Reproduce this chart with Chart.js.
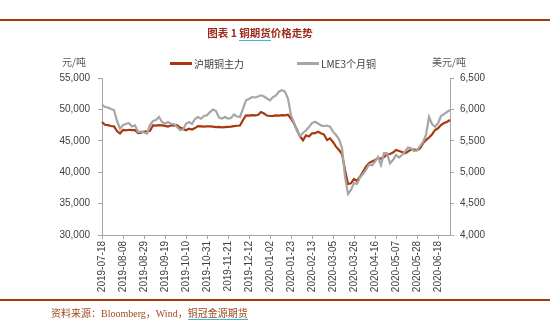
<!DOCTYPE html>
<html>
<head>
<meta charset="utf-8">
<script src="https://cdn.jsdelivr.net/npm/chart.js@4"></script>
<style>
  body { margin: 0; background: #fff; }
  #wrap { position: relative; width: 550px; height: 326px; font-family: "Noto Sans CJK SC", sans-serif; }
  #chart { position: absolute; left: 0; top: 0; }
  .rule { position: absolute; left: 0; width: 550px; height: 2px; background: #a8380f; }
  .title { position: absolute; top: 25px; left: 0; width: 520px; text-align: center; font-size: 10.5px; font-weight: bold; color: #9c2b1b; }
  .link { border-bottom: 1px solid #3cb9cc; }
  .unit { position: absolute; top: 54px; font-size: 10px; color: #595959; }
  .leg { position: absolute; top: 56px; font-size: 10px; color: #404040; display: flex; align-items: center; }
  .swatch { display: inline-block; width: 22px; height: 3px; margin-right: 2px; }
  .source { position: absolute; top: 305px; left: 51px; font-size: 10px; color: #9e4a1c; font-family: "Liberation Serif", "Noto Sans CJK SC", serif; }
</style>
</head>
<body>
<div id="wrap">
  <canvas id="chart" width="550" height="326"></canvas>
  <div class="rule" style="top:19px"></div>
  <div class="rule" style="top:299px"></div>
  <div class="title">图表 1 <span class="link">铜期货</span>价格走势</div>
  <div class="unit" style="left:62px">元/吨</div>
  <div class="unit" style="left:432px">美元/吨</div>
  <div class="leg" style="left:170px"><span class="swatch" style="background:#a8380f"></span>沪期铜主力</div>
  <div class="leg" style="left:297px"><span class="swatch" style="background:#a6a6a6"></span>LME3个月铜</div>
  <div class="source">资料来源：Bloomberg，Wind，<span class="link">铜冠金源期货</span></div>
</div>
<script>
// Sampled every 3 days starting 2019-07-18
const startDate = '2019-07-18';
const stepDays = 3;

const tickDates = ['2019-07-18', '2019-08-08', '2019-08-29', '2019-09-19', '2019-10-10', '2019-10-31',
    '2019-11-21', '2019-12-12', '2020-01-02', '2020-01-23', '2020-02-13', '2020-03-05',
    '2020-03-26', '2020-04-16', '2020-05-07', '2020-05-28', '2020-06-18'];

// SHFE copper main contract (yuan/ton)
const shfeCopper = [
    47990, 47560, 47500, 47350, 47300, 46560, 46160, 46720, 46650, 46760,
    46700, 46720, 46240, 46280, 46480, 46510, 46600, 47460, 47420, 47500,
    47460, 47380, 47270, 47460, 47420, 47480, 47110, 46920, 46670, 46920,
    46800, 47030, 47350, 47300, 47260, 47320, 47300, 47270, 47190, 47220,
    47150, 47190, 47230, 47270, 47350, 47400, 47430, 48310, 49060, 49020,
    49080, 49060, 49100, 49580, 49340, 49020, 48950, 48980, 49060, 49020,
    49080, 49060, 49150, 48520, 47750, 46720, 45680, 45080, 45870, 45680,
    46190, 46220, 46450, 46190, 46000, 45120, 45390, 44810, 44060, 43530,
    42900, 40350, 38120, 38230, 38920, 38600, 39280, 40080, 40870, 41460,
    41700, 41940, 42210, 42180, 42420, 42820, 42900, 43130, 43530, 43370,
    43210, 43010, 43290, 43610, 43580, 43530, 43800, 44600, 45120, 45520,
    46000, 46720, 46990, 47510, 47830, 47990, 48310
];

// LME 3-month copper (USD/ton)
const lmeCopper = [
    6074, 6038, 6030, 6006, 5990, 5815, 5692, 5751, 5772, 5780,
    5727, 5746, 5640, 5651, 5632, 5616, 5751, 5815, 5831, 5879,
    5799, 5772, 5799, 5772, 5765, 5719, 5672, 5680, 5772, 5799,
    5767, 5847, 5879, 5851, 5894, 5906, 5958, 5998, 5974, 5871,
    5855, 5879, 5855, 5863, 5918, 5887, 5879, 6011, 6144, 6165,
    6197, 6190, 6205, 6224, 6205, 6173, 6144, 6197, 6224, 6285,
    6304, 6285, 6170, 5906, 5791, 5656, 5576, 5624, 5667, 5719,
    5783, 5804, 5775, 5746, 5735, 5743, 5724, 5645, 5592, 5528,
    5385, 4928, 4653, 4716, 4828, 4812, 4915, 4971, 5035, 5122,
    5106, 5167, 5242, 5114, 5305, 5300, 5141, 5194, 5274, 5234,
    5274, 5329, 5393, 5380, 5337, 5345, 5417, 5481, 5592, 5879,
    5767, 5724, 5778, 5894, 5926, 5958, 5990
];

// category labels, one per sample
const labels = [];
const d0 = new Date(startDate + 'T00:00:00Z');
for (let i = 0; i < shfeCopper.length; i++) {
    const d = new Date(d0.getTime() + i * stepDays * 86400000);
    labels.push(d.toISOString().slice(0, 10));
}

const axisColor = '#a6a6a6';
const tickFont = { family: 'Liberation Sans', size: 10 };

new Chart(document.getElementById('chart'), {
    type: 'line',
    data: {
        labels: labels,
        datasets: [
            {
                label: '沪期铜主力',
                data: shfeCopper,
                yAxisID: 'y',
                borderColor: '#a8380f',
                borderWidth: 2.2,
                pointRadius: 0,
                tension: 0,
                order: 1
            },
            {
                label: 'LME3个月铜',
                data: lmeCopper,
                yAxisID: 'y1',
                borderColor: '#a6a6a6',
                borderWidth: 2.2,
                pointRadius: 0,
                tension: 0,
                order: 0
            }
        ]
    },
    options: {
        responsive: false,
        animation: false,
        layout: { padding: { top: 78, left: 0, right: 0, bottom: 0 } },
        plugins: {
            legend: { display: false },
            tooltip: { enabled: false }
        },
        scales: {
            x: {
                offset: false,
                border: { color: axisColor },
                grid: { drawOnChartArea: false, drawTicks: true, tickLength: 4, color: axisColor },
                ticks: {
                    autoSkip: false,
                    maxRotation: 90,
                    minRotation: 90,
                    padding: 2,
                    color: '#404040',
                    font: tickFont,
                    callback: function (value) {
                        const lbl = this.getLabelForValue(value);
                        return tickDates.includes(lbl) ? lbl : null;
                    }
                },
                afterFit: scale => { scale.height = 91; }
            },
            y: {
                position: 'left',
                min: 30000,
                max: 55000,
                border: { color: axisColor },
                grid: { drawOnChartArea: false, tickLength: 4, color: axisColor },
                ticks: {
                    stepSize: 5000,
                    padding: 8,
                    color: '#404040',
                    font: tickFont,
                    callback: v => v.toLocaleString('en-US')
                },
                afterFit: scale => { scale.width = 102; }
            },
            y1: {
                position: 'right',
                min: 4000,
                max: 6500,
                border: { color: axisColor },
                grid: { drawOnChartArea: false, tickLength: 4, color: axisColor },
                ticks: {
                    stepSize: 500,
                    padding: 6,
                    color: '#404040',
                    font: tickFont,
                    callback: v => v.toLocaleString('en-US')
                },
                afterFit: scale => { scale.width = 100; }
            }
        }
    }
});
</script>
</body>
</html>
